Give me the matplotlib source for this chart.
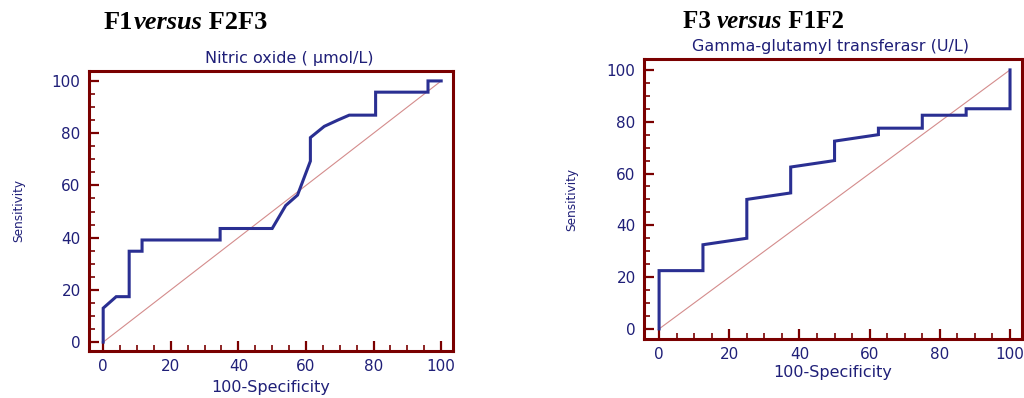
import matplotlib
matplotlib.use("Agg")
import matplotlib.pyplot as plt
from matplotlib.ticker import MultipleLocator

# ---- data ----
no_fpr = [0, 0, 3.85, 7.69, 7.69, 11.5, 11.5, 34.6, 34.6, 50.0, 54.0, 57.5, 61.3, 61.3, 65.4, 69.4, 72.8, 80.6, 80.6, 96.1, 96.1, 100]
no_tpr = [0, 13.0, 17.4, 17.4, 34.8, 34.8, 39.1, 39.1, 43.5, 43.5, 52.3, 56.3, 69.3, 78.3, 82.6, 85.0, 86.9, 86.9, 95.7, 95.7, 100, 100]

ggt_fpr = [0, 0, 12.5, 12.5, 25.0, 25.0, 37.5, 37.5, 50.0, 50.0, 62.5, 62.5, 75.0, 75.0, 87.5, 87.5, 100, 100]
ggt_tpr = [0, 22.5, 22.5, 32.5, 35.0, 50.0, 52.5, 62.5, 65.0, 72.5, 75.0, 77.5, 77.5, 82.5, 82.5, 85.0, 85.0, 100]

diag = [0, 100]
ticks = [0, 20, 40, 60, 80, 100]

titles_left = ["F1", "versus", " F2F3"]
titles_right = ["F3 ", "versus", " F1F2"]
subtitles = ["Nitric oxide ( \u00b5mol/L)", "Gamma-glutamyl transferasr (U/L)"]

# ---- style ----
NAVY = "#2a2f92"
TEXT = "#1f1f78"
RED = "#7a0000"
DIAG = "#d48c8c"

fig = plt.figure(figsize=(10.24, 3.98), dpi=100)

axL = fig.add_axes([0.0869, 0.1181, 0.3555, 0.7035])
axR = fig.add_axes([0.6289, 0.1482, 0.3691, 0.7035])


def style(ax, xlim, ylim, sub, subx, suby, ylabx, xlaby):
    ax.set_xlim(*xlim)
    ax.set_ylim(*ylim)
    ax.set_xticks(ticks)
    ax.set_yticks(ticks)
    ax.xaxis.set_minor_locator(MultipleLocator(5))
    ax.yaxis.set_minor_locator(MultipleLocator(5))
    for s in ax.spines.values():
        s.set_color(RED)
        s.set_linewidth(2.2)
    ax.tick_params(which="major", direction="in", length=7.5, width=1.6,
                   color=RED, labelsize=11, labelcolor=TEXT, pad=6,
                   top=False, right=False)
    ax.tick_params(which="minor", direction="in", length=4.5, width=1.2,
                   color=RED, top=False, right=False)
    ax.set_xlabel("100-Specificity", fontsize=11.5, color=TEXT, va="center")
    ax.set_ylabel("Sensitivity", fontsize=8.7, color=TEXT, va="center")
    ax.xaxis.set_label_coords(0.5, xlaby)
    ax.yaxis.set_label_coords(ylabx, 0.5)
    ax.text(subx, suby, sub, transform=ax.transAxes, ha="center", va="center",
            fontsize=11.5, color=TEXT)


style(axL, (-4.2, 103.5), (-3.4, 103.8), subtitles[0], 0.551, 1.046, -0.194, -0.129)
style(axR, (-4.3, 103.4), (-3.9, 104.2), subtitles[1], 0.494, 1.044, -0.191, -0.121)

axL.plot(diag, diag, color=DIAG, lw=0.8)
axL.plot(no_fpr, no_tpr, color=NAVY, lw=2.2, solid_joinstyle="miter")
axR.plot(diag, diag, color=DIAG, lw=0.8)
axR.plot(ggt_fpr, ggt_tpr, color=NAVY, lw=2.2, solid_joinstyle="miter")


def title(parts, x_px, y_px, size):
    styles = ["normal", "italic", "normal"]
    fig.canvas.draw()
    r = fig.canvas.get_renderer()
    xx = x_px
    for p, st in zip(parts, styles):
        t = fig.text(xx / 1024, 1 - y_px / 398, p, fontsize=size, fontweight="bold",
                     fontstyle=st, family="Liberation Serif", va="baseline", ha="left")
        xx += t.get_window_extent(renderer=r).width


title(titles_left, 104, 29, 19)
title(titles_right, 683, 28, 18)

fig.savefig("out.png", dpi=100)
